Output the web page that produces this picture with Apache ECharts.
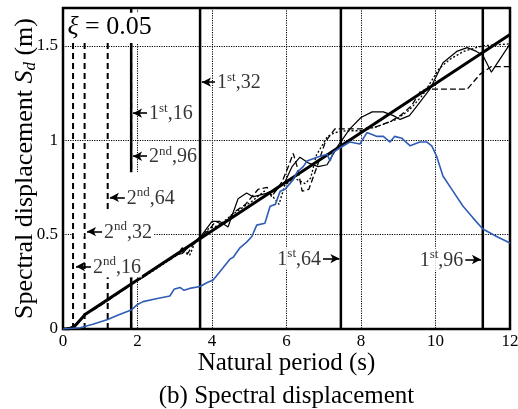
<!DOCTYPE html>
<html><head><meta charset="utf-8">
<script src="https://cdn.jsdelivr.net/npm/echarts@6/dist/echarts.min.js"></script>
<style>html,body{margin:0;padding:0;background:#fff}#c{width:518px;height:409px}</style>
</head><body><div id="c"></div>
<script>
// ---- data ----
const xTicks = [0, 2, 4, 6, 8, 10, 12];
const yTicks = [0, 0.5, 1, 1.5];
// target (thick straight) spectrum
const targetSd = [[0,0],[0.15,0],[0.3,0.012],[0.45,0.045],[0.6,0.078],[12,1.56]];
// thin solid
const solidSd = [[0,0],[0.2,0.005],[0.4,0.035],[0.6,0.08],[0.8,0.1],[1.0,0.125],[1.2,0.155],[1.4,0.18],[1.6,0.205],[1.8,0.235],[2.0,0.26],[2.2,0.28],[2.4,0.31],[2.6,0.34],[2.8,0.36],[3.0,0.39],[3.2,0.40],[3.4,0.44],[3.5,0.46],[3.68,0.485],[4.0,0.57],[4.2,0.57],[4.43,0.54],[4.7,0.69],[4.93,0.72],[5.1,0.70],[5.3,0.71],[5.7,0.73],[5.96,0.78],[6.15,0.86],[6.36,0.91],[6.58,0.88],[6.85,0.86],[7.09,0.87],[7.38,0.97],[7.7,1.06],[8.0,1.12],[8.3,1.15],[8.6,1.15],[8.87,1.13],[9.05,1.11],[9.3,1.13],[9.5,1.18],[9.85,1.27],[10.2,1.41],[10.57,1.47],[10.85,1.49],[11.1,1.47],[11.27,1.45],[11.5,1.36],[12,1.51]];
// thin dashed
const dashedSd = [[0,0],[0.3,0.01],[0.6,0.08],[0.9,0.11],[1.2,0.15],[1.5,0.19],[1.8,0.23],[2.1,0.27],[2.4,0.31],[2.7,0.35],[3.0,0.38],[3.2,0.43],[3.35,0.40],[3.5,0.45],[3.68,0.49],[3.9,0.52],[4.1,0.57],[4.3,0.55],[4.6,0.62],[4.9,0.66],[5.24,0.74],[5.48,0.75],[5.6,0.70],[5.88,0.78],[6.05,0.86],[6.18,0.93],[6.3,0.85],[6.42,0.73],[6.6,0.74],[6.82,0.86],[7.04,0.99],[7.3,1.06],[7.6,1.06],[8.0,1.06],[8.4,1.07],[8.8,1.10],[9.05,1.13],[9.35,1.18],[9.6,1.26],[9.8,1.27],[10.4,1.27],[10.85,1.27],[11.2,1.35],[11.5,1.39],[12,1.39]];
// thin dotted
const dottedSd = [[0,0],[0.3,0.01],[0.6,0.075],[0.9,0.115],[1.2,0.15],[1.5,0.195],[1.8,0.235],[2.1,0.27],[2.4,0.305],[2.7,0.345],[3.0,0.385],[3.2,0.41],[3.4,0.39],[3.55,0.46],[3.68,0.48],[3.9,0.53],[4.2,0.55],[4.5,0.60],[4.8,0.64],[5.1,0.68],[5.4,0.73],[5.6,0.71],[5.8,0.66],[5.95,0.76],[6.2,0.80],[6.5,0.77],[6.65,0.80],[6.8,0.92],[7.1,1.02],[7.3,1.04],[7.6,1.05],[8.0,1.05],[8.4,1.07],[8.95,1.11],[9.3,1.16],[9.66,1.24],[10.1,1.38],[10.4,1.43],[10.75,1.47],[11.27,1.50],[12,1.51]];
// recorded (blue)
const blueSd = [[0,0],[0.46,0.007],[0.8,0.025],[1.2,0.05],[1.5,0.075],[1.83,0.10],[2.0,0.13],[2.15,0.145],[2.5,0.16],[2.87,0.175],[2.98,0.21],[3.14,0.22],[3.25,0.205],[3.4,0.215],[3.68,0.225],[3.86,0.245],[4.03,0.26],[4.2,0.30],[4.48,0.37],[4.57,0.38],[4.75,0.43],[4.93,0.46],[5.07,0.49],[5.2,0.55],[5.42,0.56],[5.56,0.65],[5.7,0.66],[5.83,0.73],[5.96,0.74],[6.09,0.77],[6.18,0.79],[6.28,0.83],[6.45,0.86],[6.55,0.89],[6.82,0.91],[7.09,0.925],[7.17,0.89],[7.25,0.935],[7.44,0.96],[7.7,0.99],[7.97,0.98],[8.16,1.04],[8.43,1.02],[8.6,1.02],[8.78,0.99],[8.9,1.02],[9.1,1.01],[9.32,0.97],[9.58,0.99],[9.77,0.99],[9.9,0.97],[10.03,0.915],[10.2,0.81],[10.47,0.73],[10.74,0.65],[11.0,0.59],[11.27,0.53],[11.64,0.49],[12,0.455]];
// building periods (vertical lines)
const periods1st = [1.83, 3.68, 7.46, 11.27];
const periods2nd = [0.27, 0.58, 1.2, 1.83];
const annoLabels = ['1st,32','1st,16','2nd,96','2nd,64','2nd,32','2nd,16','1st,64','1st,96'];

// ---- layout (positions, not data) ----
const annoPos = [
  {tail:[4.08,1.307], tip:3.73, side:'right'},
  {tail:[2.255,1.143], tip:1.88, side:'right'},
  {tail:[2.255,0.915], tip:1.88, side:'right'},
  {tail:[1.66,0.697], tip:1.26, side:'right'},
  {tail:[1.05,0.516], tip:0.645, side:'right'},
  {tail:[0.75,0.331], tip:0.35, side:'right'},
  {tail:[6.98,0.373], tip:7.42, side:'left'},
  {tail:[10.8,0.368], tip:11.22, side:'left'}
];
const whiteBoxes = [
  [[0.05,1.515],[3.62,1.675]],
  [[1.7,0.275],[2.42,0.83]],
  [[1.1,0.275],[1.7,0.63]],
  [[0.29,0.49],[0.555,0.51]],
  [[0.61,0.49],[1.1,0.51]]
];
const YMAX = 1.7;
const FONT = '"Liberation Serif", "Times New Roman", serif';

function vlines(periods, dashed, name) {
  return periods.map((p, i) => ({
    type: 'line', name: name + i, z: 2, silent: true, symbol: 'none', animation: false,
    data: [[p, 0], [p, YMAX]],
    lineStyle: {color: '#000', width: dashed ? 2 : 2.5, type: dashed ? [6, 4] : 'solid'}
  }));
}
function annoText(s) {
  const m = s.match(/^(\d)(st|nd)(,\d+)$/);
  return '{n|' + m[1] + '}{s|' + m[2] + '}{n|' + m[3] + '}';
}
const rich = {
  n: {fontFamily: FONT, fontSize: 20, color: '#000', lineHeight: 22, verticalAlign: 'bottom'},
  s: {fontFamily: FONT, fontSize: 13, color: '#000', lineHeight: 22, verticalAlign: 'top', padding:[0,0,7,0]}
};

const chart = echarts.init(document.getElementById('c'), null, {renderer: 'canvas'});
const lineBase = {type: 'line', symbol: 'none', animation: false, silent: true, z: 5};
const option = {
  backgroundColor: '#fff',
  animation: false,
  textStyle: {fontFamily: FONT},
  grid: {left: 63, right: 8, top: 8, bottom: 80, containLabel: false, outerBoundsMode: 'none',
    show: true, borderColor: '#000', borderWidth: 2.5, backgroundColor: 'transparent'},
  xAxis: {
    type: 'value', min: 0, max: 12, interval: 2,
    name: 'Natural period (s)', nameLocation: 'middle', nameGap: 22, nameMoveOverlap: false,
    nameTextStyle: {fontFamily: FONT, fontSize: 25, color: '#000', verticalAlign: 'top'},
    axisLine: {show: false}, axisTick: {show: false},
    axisLabel: {fontFamily: FONT, fontSize: 17, color: '#000', margin: 4, hideOverlap: false,
      formatter: v => xTicks.indexOf(v) >= 0 ? String(v) : ''},
    splitLine: {show: true, lineStyle: {color: '#000', type: [1.2, 1.2], width: 1}}
  },
  yAxis: {
    type: 'value', min: 0, max: YMAX, interval: 0.5,
    name: '{a|Spectral displacement }{i|S}{d|d}{a| (m)}', nameLocation: 'middle', nameGap: 24, nameRotate: 90,
    nameMoveOverlap: false,
    nameTextStyle: {fontFamily: FONT, rich: {
      a: {fontFamily: FONT, fontSize: 26, color: '#000'},
      i: {fontFamily: FONT, fontSize: 26, color: '#000', fontStyle: 'italic'},
      d: {fontFamily: FONT, fontSize: 17, color: '#000', fontStyle: 'italic', verticalAlign: 'bottom', padding: [10,0,0,0]}
    }},
    axisLine: {show: false}, axisTick: {show: false},
    axisLabel: {fontFamily: FONT, fontSize: 17, color: '#000', margin: 5, showMaxLabel: false,
      formatter: v => yTicks.indexOf(v) >= 0 ? String(v) : ''},
    splitLine: {show: true, lineStyle: {color: '#000', type: [1.2, 1.2], width: 1}}
  },
  series: [].concat(
    vlines(periods2nd, true, 'p2'),
    vlines(periods1st, false, 'p1'),
    [
      Object.assign({}, lineBase, {name: 'dotted', data: dottedSd, lineStyle: {color: '#000', width: 1.3, type: [2, 2]}}),
      Object.assign({}, lineBase, {name: 'dashed', data: dashedSd, lineStyle: {color: '#000', width: 1.3, type: [6, 3]}}),
      Object.assign({}, lineBase, {name: 'solid', data: solidSd, lineStyle: {color: '#000', width: 1.2}}),
      Object.assign({}, lineBase, {name: 'target', data: targetSd, lineStyle: {color: '#000', width: 3}}),
      Object.assign({}, lineBase, {name: 'blue', data: blueSd, lineStyle: {color: '#2f5db5', width: 1.6}}),
      {
        type: 'scatter', name: 'anno', z: 8, symbolSize: 0, silent: true, animation: false,
        data: annoPos.map((a, i) => ({
          value: a.tail,
          label: {show: true, position: a.side, distance: 1, formatter: annoText(annoLabels[i]),
            fontFamily: FONT, rich: rich, backgroundColor: '#fff', padding: [0, 1]}
        })),
        markLine: {
          silent: true, animation: false, symbol: ['none', 'arrow'], symbolSize: [7, 9],
          label: {show: false},
          lineStyle: {color: '#000', width: 1.6, type: 'solid'},
          data: annoPos.map(a => [{coord: a.tail}, {coord: [a.tip, a.tail[1]]}])
        }
      }
    ]
  )
};
chart.setOption(option);

// white cover boxes, damping label and caption, placed through the axes
const els = whiteBoxes.map(b => {
  const p0 = chart.convertToPixel({gridIndex: 0}, b[0]);
  const p1 = chart.convertToPixel({gridIndex: 0}, b[1]);
  return {type: 'rect', z: 3, silent: true,
    shape: {x: Math.min(p0[0], p1[0]), y: Math.min(p0[1], p1[1]), width: Math.abs(p1[0]-p0[0]), height: Math.abs(p1[1]-p0[1])},
    style: {fill: '#fff'}};
});
const xiPos = chart.convertToPixel({gridIndex: 0}, [0.12, 1.6]);
els.push({type: 'text', z: 9, silent: true, x: xiPos[0], y: xiPos[1],
  style: {text: '{i|ξ}{n| = 0.05}', verticalAlign: 'middle', align: 'left', fontFamily: FONT,
    rich: {i: {fontFamily: FONT, fontSize: 26, fontStyle: 'italic', fill: '#000'},
           n: {fontFamily: FONT, fontSize: 26, fill: '#000'}}}});
const capX = chart.convertToPixel({gridIndex: 0}, [6, 0])[0];
els.push({type: 'text', z: 9, silent: true, x: capX, y: 396,
  style: {text: '(b) Spectral displacement', align: 'center', verticalAlign: 'middle',
    fontFamily: FONT, fontSize: 25, fill: '#000'}});
chart.setOption({graphic: {elements: els}});
</script></body></html>
